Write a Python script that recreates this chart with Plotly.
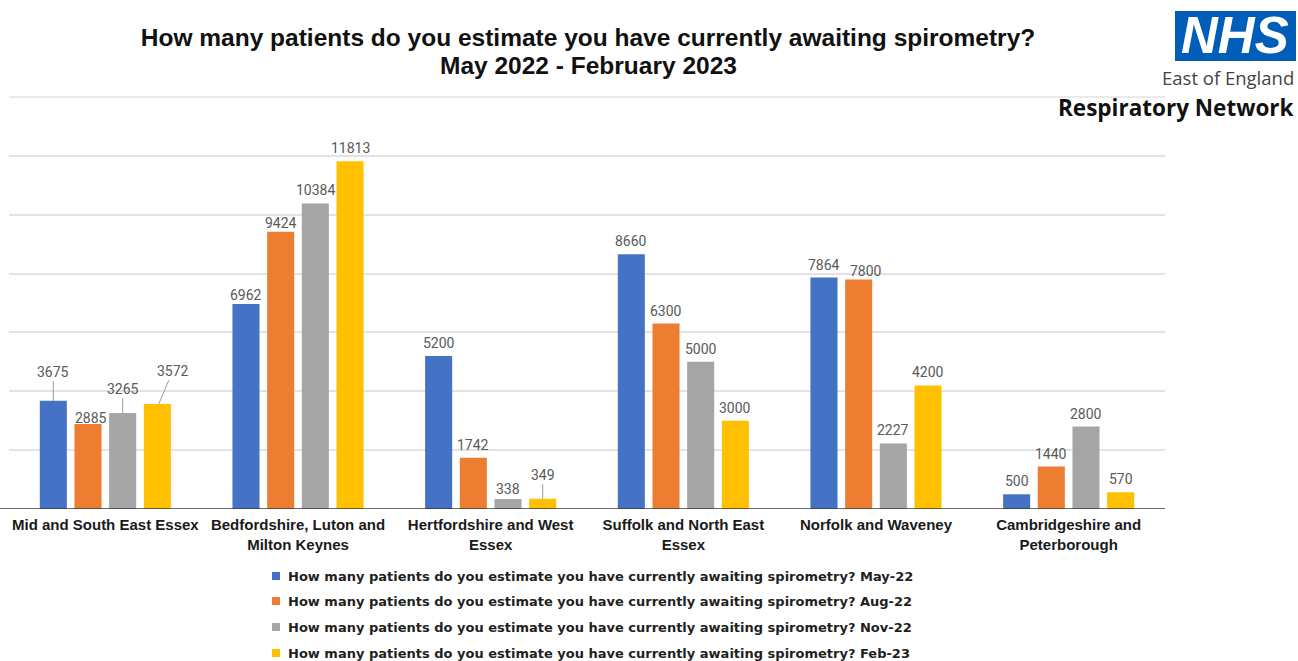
import plotly.graph_objects as go

# ---- data -------------------------------------------------------------
categories = [
    "Mid and South East Essex",
    "Bedfordshire, Luton and Milton Keynes",
    "Hertfordshire and West Essex",
    "Suffolk and North East Essex",
    "Norfolk and Waveney",
    "Cambridgeshire and Peterborough",
]
tick_labels = [
    "Mid and South East Essex",
    "Bedfordshire, Luton and<br>Milton Keynes",
    "Hertfordshire and West<br>Essex",
    "Suffolk and North East<br>Essex",
    "Norfolk and Waveney",
    "Cambridgeshire and<br>Peterborough",
]
may_22 = [3675, 6962, 5200, 8660, 7864, 500]
aug_22 = [2885, 9424, 1742, 6300, 7800, 1440]
nov_22 = [3265, 10384, 338, 5000, 2227, 2800]
feb_23 = [3572, 11813, 349, 3000, 4200, 570]

question = "How many patients do you estimate you have currently awaiting spirometry?"
subtitle = "May 2022 - February 2023"
periods = ["May-22", "Aug-22", "Nov-22", "Feb-23"]
series = [may_22, aug_22, nov_22, feb_23]
colors = ["#4472C4", "#ED7D31", "#A5A5A5", "#FFC000"]

# ---- layout geometry ---------------------------------------------------
W, H = 1298, 661
L, R, T, B = 9, 133, 97, 152
BARGAP, GROUPGAP = 0.28, 0.22
SLOT = (1 - BARGAP) / len(series)
Y_MAX = 14000


def px_x(px):
    return (px - L) / (W - L - R)


def px_y(py):
    return (H - B - py) / (H - T - B)


# value-label placement: (dx, dy above bar top, draw leader line)
label_nudge = {
    (0, 0): (0, 29, True),
    (1, 0): (3, 6, False),
    (2, 0): (0, 24, True),
    (3, 0): (14, 33, True),
    (0, 1): (0, 9, False),
    (1, 1): (0, 9, False),
    (2, 2): (0, 10, False),
    (3, 2): (0, 24, True),
    (1, 4): (7, 8.5, False),
}

fig = go.Figure()
for k, (vals, period, col) in enumerate(zip(series, periods, colors)):
    fig.add_trace(go.Bar(
        x=categories, y=vals, name=f"{question} {period}",
        marker=dict(color=col, line=dict(width=0)),
        showlegend=False, hoverinfo="x+y",
    ))

annotations = []
label_font = dict(family="Roboto, Arial", size=14, color="#595959")
for k, vals in enumerate(series):
    for i, v in enumerate(vals):
        dx, dy, leader = label_nudge.get((k, i), (0, 13, False))
        xpos = i + (k - 1.5) * SLOT
        if leader:
            annotations.append(dict(
                x=xpos + (1.5 / 192.7 if dx else 0), y=v, xref="x", yref="y",
                text=str(v), font=label_font, showarrow=True, arrowhead=0,
                arrowwidth=1, arrowcolor="#9a9a9a", standoff=0,
                ax=dx, ay=-dy,
            ))
        else:
            annotations.append(dict(
                x=xpos, y=v, xref="x", yref="y", text=str(v), font=label_font,
                showarrow=False, xshift=dx, yshift=dy, yanchor="middle",
            ))

title_font = dict(family="Liberation Sans, Arial", size=24.5, color="#111111", weight="bold")

# second title line
annotations.append(dict(
    x=px_x(588), y=px_y(65), xref="paper", yref="paper", showarrow=False,
    xanchor="center", yanchor="middle", text=subtitle, font=title_font,
))

# legend drawn as colour squares plus bold captions below the chart
legend_rows = [576, 601, 627, 653]
shapes = []
for period, col, row in zip(periods, colors, legend_rows):
    shapes.append(dict(
        type="rect", xref="paper", yref="paper",
        x0=px_x(272), x1=px_x(280), y0=px_y(row + 4), y1=px_y(row - 4),
        fillcolor=col, line=dict(width=0),
    ))
    annotations.append(dict(
        x=px_x(286), y=px_y(row), xref="paper", yref="paper",
        xanchor="left", yanchor="middle", showarrow=False,
        text=f"{question} {period}",
        font=dict(family="DejaVu Sans", size=13, color="#1f1f1f", weight="bold"),
    ))

# top gridline along the upper edge of the plot area
shapes.append(dict(
    type="line", xref="paper", yref="paper", x0=0, x1=1, y0=1, y1=1,
    line=dict(color="#e3e3e3", width=1.5), layer="below",
))
# baseline
shapes.append(dict(
    type="line", xref="paper", yref="y", x0=px_x(0), x1=1, y0=0, y1=0,
    line=dict(color="#3a3a3a", width=1.3),
))

# NHS East of England Respiratory Network logo block
shapes.append(dict(
    type="rect", xref="paper", yref="paper",
    x0=px_x(1175), x1=px_x(1296), y0=px_y(61), y1=px_y(11),
    fillcolor="#005EB8", line=dict(width=0),
))
annotations += [
    dict(x=px_x(1235), y=px_y(36), xref="paper", yref="paper", showarrow=False,
         xanchor="center", yanchor="middle", text="<i>NHS</i>",
         font=dict(family="Liberation Sans, Arial", size=51, color="white", weight="bold")),
    dict(x=px_x(1296), y=px_y(78), xref="paper", yref="paper", showarrow=False,
         xanchor="right", yanchor="middle", text="East of England",
         font=dict(family="Open Sans", size=18.5, color="#444444")),
    dict(x=px_x(1296), y=px_y(107), xref="paper", yref="paper", showarrow=False,
         xanchor="right", yanchor="middle", text="Respiratory Network",
         font=dict(family="Open Sans", size=22.5, color="#111111", weight="bold")),
]

fig.update_layout(
    width=W, height=H,
    margin=dict(l=L, r=R, t=T, b=B),
    paper_bgcolor="white", plot_bgcolor="white",
    barmode="group", bargap=BARGAP, bargroupgap=GROUPGAP,
    title=dict(
        text=question,
        x=588 / W, xanchor="center", xref="container",
        y=1 - 37 / H, yanchor="middle", yref="container",
        font=title_font,
    ),
    xaxis=dict(
        type="category", tickmode="array", tickvals=categories, ticktext=tick_labels,
        showgrid=False, showline=False, zeroline=False, ticks="",
        ticklabelstandoff=5,
        tickfont=dict(family="Liberation Sans, Arial", size=15, color="#1a1a1a", weight="bold"),
    ),
    yaxis=dict(
        range=[0, Y_MAX], dtick=2000, showticklabels=False, ticks="",
        showgrid=True, gridcolor="#e3e3e3", gridwidth=1.5, zeroline=False,
    ),
    shapes=shapes,
    annotations=annotations,
    showlegend=False,
)

fig.write_html("out.html")
